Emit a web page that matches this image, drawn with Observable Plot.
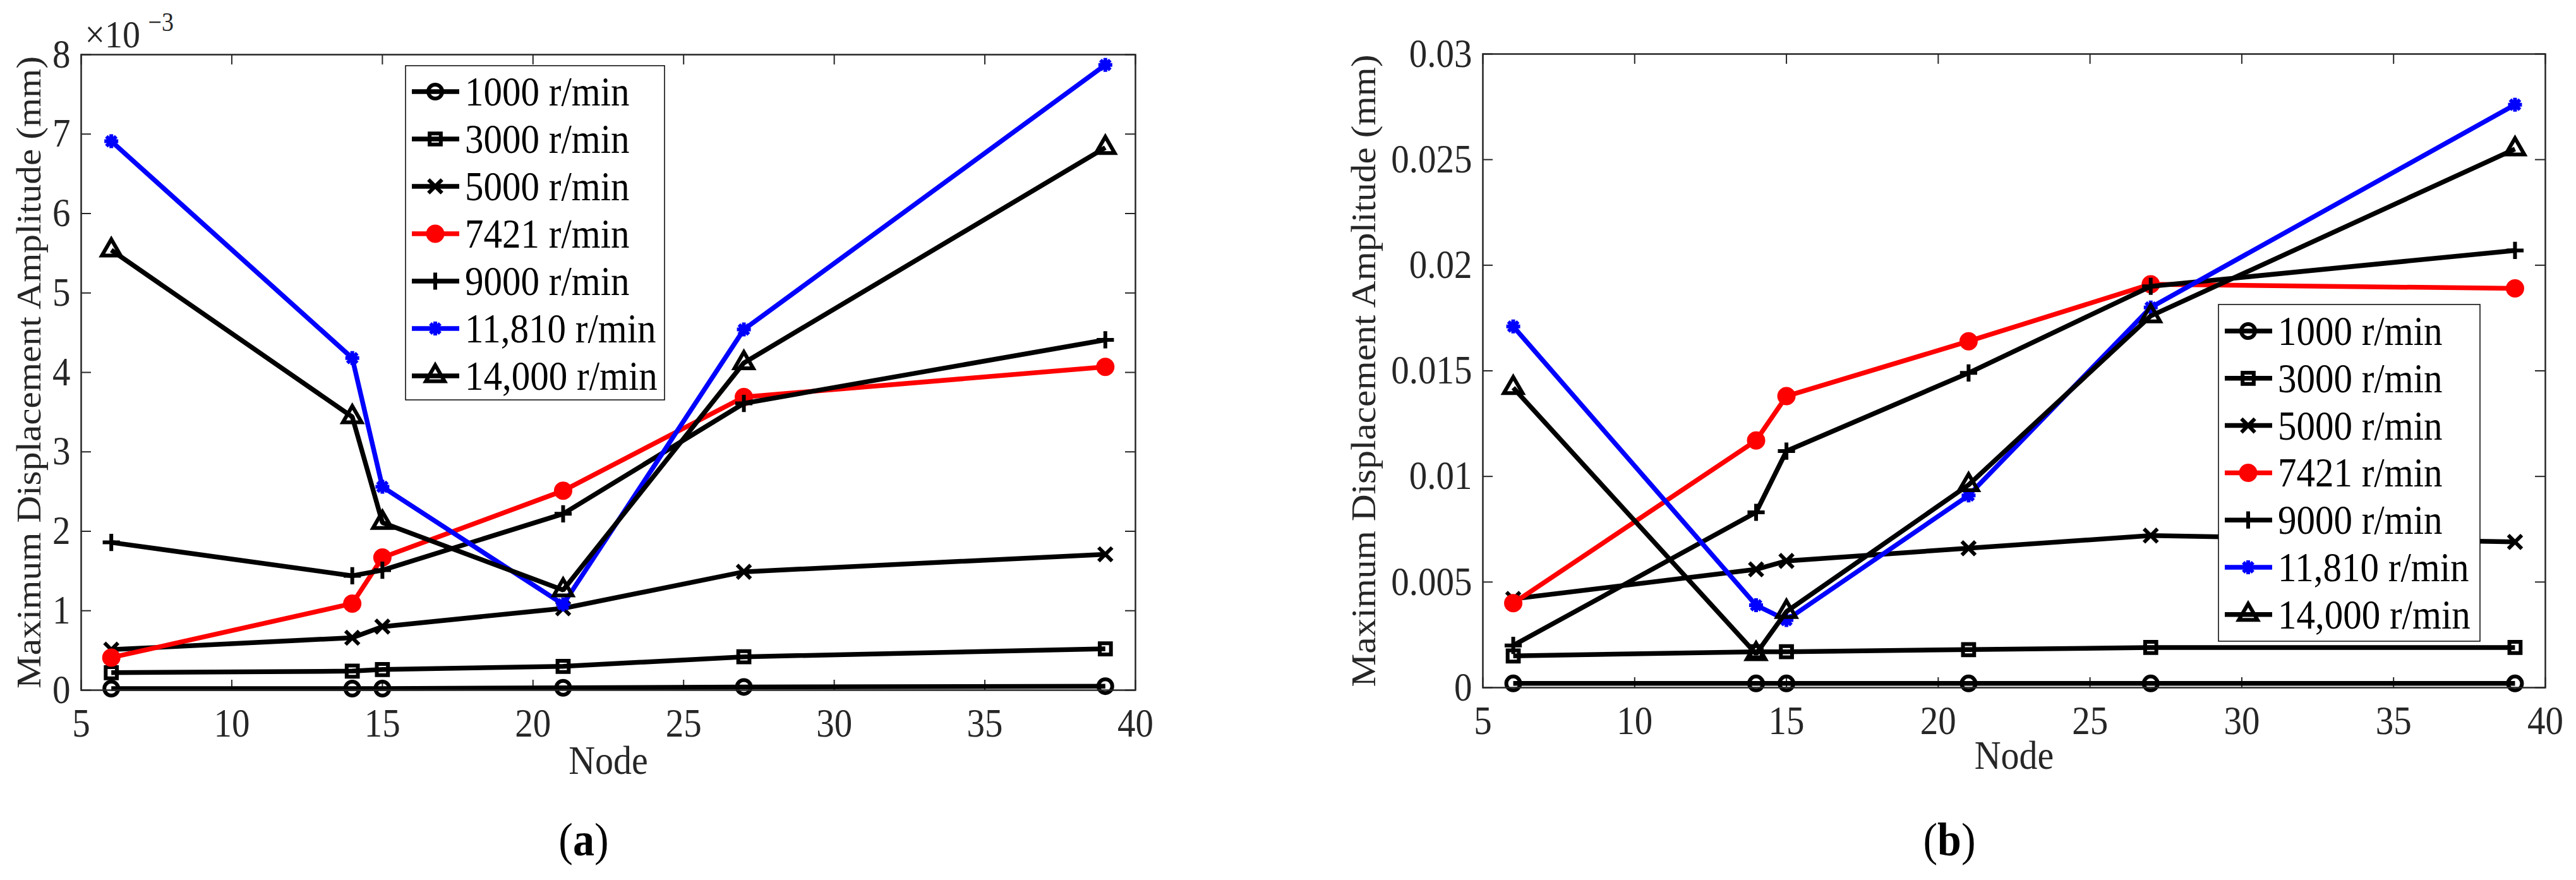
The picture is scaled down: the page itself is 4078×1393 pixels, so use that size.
<!DOCTYPE html>
<html>
<head>
<meta charset="utf-8">
<script src="https://cdn.jsdelivr.net/npm/d3@7"></script>
<script src="https://cdn.jsdelivr.net/npm/@observablehq/plot@0.6"></script>
<style>
  html, body { margin: 0; padding: 0; background: #fff; }
  body { width: 4078px; height: 1393px; overflow: hidden; font-family: "Liberation Serif", "Times New Roman", serif; }
  #fig { position: relative; width: 4078px; height: 1393px; }
  #pa, #pb { position: absolute; top: 0; }
  #pa { left: 0; }
  #pb { left: 2039px; }
  #overlay { position: absolute; left: 0; top: 0; pointer-events: none; }
</style>
</head>
<body>
<div id="fig">
  <div id="pa"></div>
  <div id="pb"></div>
</div>
<script>
// ---------------- data ----------------
const nodes = [6, 14, 15, 21, 27, 39];
const speeds = ["1000 r/min", "3000 r/min", "5000 r/min", "7421 r/min", "9000 r/min", "11,810 r/min", "14,000 r/min"];
const seriesColors = ["#000000", "#000000", "#000000", "#ff0000", "#000000", "#0000ff", "#000000"];
const seriesSymbols = ["circle", "square", "times", "circle", "plus", "asterisk8", "triangle"];
const seriesFilled = [false, false, false, true, false, false, false];

// panel (a): values in units of 1e-3 mm
const a1000 = [0.02, 0.02, 0.02, 0.03, 0.04, 0.05];
const a3000 = [0.22, 0.24, 0.26, 0.30, 0.42, 0.52];
const a5000 = [0.51, 0.66, 0.80, 1.03, 1.49, 1.71];
const a7421 = [0.41, 1.09, 1.67, 2.51, 3.69, 4.07];
const a9000 = [1.86, 1.44, 1.51, 2.22, 3.61, 4.41];
const a11810 = [6.91, 4.18, 2.56, 1.08, 4.54, 7.87];
const a14000 = [5.54, 3.44, 2.11, 1.26, 4.12, 6.83];

// panel (b): values in mm
const b1000 = [0.0002, 0.0002, 0.0002, 0.0002, 0.0002, 0.0002];
const b3000 = [0.0015, 0.0017, 0.0017, 0.0018, 0.0019, 0.0019];
const b5000 = [0.0042, 0.0056, 0.0060, 0.0066, 0.0072, 0.0069];
const b7421 = [0.0040, 0.0117, 0.0138, 0.0164, 0.0191, 0.0189];
const b9000 = [0.0020, 0.0083, 0.0112, 0.0149, 0.0190, 0.0207];
const b11810 = [0.0171, 0.0039, 0.0032, 0.0091, 0.0180, 0.0276];
const b14000 = [0.0142, 0.0016, 0.0036, 0.0096, 0.0176, 0.0255];

const xTicks = [5, 10, 15, 20, 25, 30, 35, 40];
const xTickLabels = ["5", "10", "15", "20", "25", "30", "35", "40"];
const yTicksA = [0, 1, 2, 3, 4, 5, 6, 7, 8];
const yTickLabelsA = ["0", "1", "2", "3", "4", "5", "6", "7", "8"];
const yTicksB = [0, 0.005, 0.01, 0.015, 0.02, 0.025, 0.03];
const yTickLabelsB = ["0", "0.005", "0.01", "0.015", "0.02", "0.025", "0.03"];

const xLabel = "Node";
const yLabel = "Maximum Displacement Amplitude (mm)";
const exponentBase = "\u00d710";
const exponentPower = "\u22123";
const captions = ["a", "b"];

// ---------------- style ----------------
const FONT = "Liberation Serif, Times New Roman, serif";
const AX = "#262626";
const K = 1.1;           // vertical stretch of glyphs seen in the reference
const LW = 7.5;          // line width
const MW = 6;            // marker stroke width
const TL = 16;           // inward tick length
const radii = [11, 10, 9.8, 11.5, 8.8, 11, 11];

// MATLAB-style eight-armed asterisk marker
const asterisk8 = {
  draw(ctx, size) {
    const r = Math.sqrt(size / Math.PI), d = r * Math.SQRT1_2;
    ctx.moveTo(0, -r); ctx.lineTo(0, r);
    ctx.moveTo(-r, 0); ctx.lineTo(r, 0);
    ctx.moveTo(-d, -d); ctx.lineTo(d, d);
    ctx.moveTo(-d, d); ctx.lineTo(d, -d);
  }
};
const plotSymbol = s => s === "asterisk8" ? asterisk8 : s;

function makePanel(cfg) {
  const {series, yDomain, yTicks, yTickLabels, width, ml, mr, top, bottom, H, yLabelDx, nodeDy, exponent} = cfg;
  const ih = bottom - top, iw = width - ml - mr;
  const marks = [];
  // inward ticks on all four sides
  marks.push(Plot.tickX(xTicks, {x: d => d, insetTop: ih - TL, stroke: AX, strokeWidth: 2}));
  marks.push(Plot.tickX(xTicks, {x: d => d, insetBottom: ih - TL, stroke: AX, strokeWidth: 2}));
  marks.push(Plot.tickY(yTicks, {y: d => d, insetRight: iw - TL, stroke: AX, strokeWidth: 2}));
  marks.push(Plot.tickY(yTicks, {y: d => d, insetLeft: iw - TL, stroke: AX, strokeWidth: 2}));
  // series
  series.forEach((vals, i) => {
    const rows = nodes.map((n, j) => ({node: n, v: vals[j]}));
    marks.push(Plot.line(rows, {x: "node", y: "v", stroke: seriesColors[i], strokeWidth: LW, strokeLinejoin: "miter", strokeLinecap: "butt"}));
    marks.push(Plot.dot(rows, {x: "node", y: "v", symbol: plotSymbol(seriesSymbols[i]), r: radii[i],
      stroke: seriesColors[i], fill: seriesFilled[i] ? seriesColors[i] : "none", strokeWidth: MW}));
  });
  marks.push(Plot.frame({stroke: AX, strokeWidth: 2.5}));
  marks.push(Plot.axisX({ticks: xTicks, tickFormat: d => xTickLabels[xTicks.indexOf(d)], tickSize: 0, tickPadding: 31,
    fontSize: 57, fill: AX, label: null}));
  marks.push(Plot.axisY({ticks: yTicks, tickFormat: d => yTickLabels[yTicks.indexOf(d)], tickSize: 0, tickPadding: 17,
    fontSize: 57, fill: AX, label: null}));
  marks.push(Plot.text([xLabel], {text: d => d, frameAnchor: "bottom", dy: nodeDy, fontSize: 58, fill: AX, textAnchor: "middle"}));
  marks.push(Plot.text([yLabel], {text: d => d, frameAnchor: "left", dx: yLabelDx, rotate: -90, fontSize: 54, fill: AX, textAnchor: "middle", lineAnchor: "middle"}));
  if (exponent) {
    marks.push(Plot.text([exponentBase], {text: d => d, frameAnchor: "top-left", dx: 6, dy: -13, textAnchor: "start", lineAnchor: "bottom", fontSize: 56, fill: AX}));
    marks.push(Plot.text([exponentPower], {text: d => d, frameAnchor: "top-left", dx: 106, dy: -39, textAnchor: "start", lineAnchor: "bottom", fontSize: 38, fill: AX}));
  }
  return Plot.plot({
    width, height: H,
    marginLeft: ml, marginRight: mr, marginTop: top, marginBottom: H - bottom,
    x: {domain: [5, 40]},
    y: {domain: yDomain},
    style: {fontFamily: FONT, fontSize: "57px", color: AX, background: "transparent", overflow: "visible"},
    marks
  });
}

const H = 1280;
const svgA = makePanel({
  series: [a1000, a3000, a5000, a7421, a9000, a11810, a14000],
  yDomain: [0, 8], yTicks: yTicksA, yTickLabels: yTickLabelsA,
  width: 2039, ml: 128, mr: 242, top: 86, bottom: 1092, H,
  yLabelDx: -82, nodeDy: 131, exponent: true
});
const svgB = makePanel({
  series: [b1000, b3000, b5000, b7421, b9000, b11810, b14000],
  yDomain: [0, 0.03], yTicks: yTicksB, yTickLabels: yTickLabelsB,
  width: 2039, ml: 308, mr: 49, top: 85, bottom: 1088, H,
  yLabelDx: -188, nodeDy: 127, exponent: false
});
document.getElementById("pa").appendChild(svgA);
document.getElementById("pb").appendChild(svgB);

// ---------------- legends & captions overlay ----------------
const overlay = d3.select("#fig").append("svg").attr("id", "overlay")
  .attr("width", 4078).attr("height", 1393)
  .style("font-family", FONT);

const symbolTypes = {circle: d3.symbolCircle, square: d3.symbolSquare, times: d3.symbolTimes,
  plus: d3.symbolPlus, asterisk8: asterisk8, triangle: d3.symbolTriangle};

function legend(x0, y0, w, h, firstRow, step) {
  const g = overlay.append("g");
  g.append("rect").attr("x", x0).attr("y", y0).attr("width", w).attr("height", h)
    .attr("fill", "#fff").attr("stroke", "#000").attr("stroke-width", 1.5);
  speeds.forEach((s, i) => {
    const cy = y0 + firstRow + i * step;
    g.append("line").attr("x1", x0 + 10).attr("x2", x0 + 85).attr("y1", cy).attr("y2", cy)
      .attr("stroke", seriesColors[i]).attr("stroke-width", LW);
    g.append("path").attr("transform", `translate(${x0 + 47},${cy})`)
      .attr("d", d3.symbol(symbolTypes[seriesSymbols[i]], Math.PI * radii[i] * radii[i])())
      .attr("fill", seriesFilled[i] ? seriesColors[i] : "none")
      .attr("stroke", seriesColors[i]).attr("stroke-width", MW);
    g.append("text").attr("x", x0 + 94).attr("y", cy + 20).attr("font-size", 59).attr("fill", "#000").text(s);
  });
}
legend(642, 104, 410, 529, 41, 75);
legend(3512, 482, 414, 533, 42, 74.8);

function caption(cx, letter) {
  const t = overlay.append("text").attr("x", cx).attr("y", 1352).attr("text-anchor", "middle")
    .attr("font-size", 68).attr("fill", "#000");
  t.append("tspan").text("(");
  t.append("tspan").attr("font-weight", "bold").text(letter);
  t.append("tspan").text(")");
}
caption(924, captions[0]);
caption(3086, captions[1]);

// ---------------- stretch glyphs vertically like the reference ----------------
function stretchTexts(root) {
  root.querySelectorAll("text").forEach(t => {
    const bb = t.getBBox();
    const tr = t.getAttribute("transform") || "";
    if (/rotate/.test(tr)) {
      const cx = bb.x + bb.width / 2;
      t.setAttribute("transform", `${tr} translate(${cx},0) scale(${K},1) translate(${-cx},0)`);
    } else {
      const cy = bb.y + bb.height / 2;
      t.setAttribute("transform", `${tr} translate(0,${cy}) scale(1,${K}) translate(0,${-cy})`);
    }
  });
}
stretchTexts(svgA);
stretchTexts(svgB);
stretchTexts(overlay.node());
</script>
</body>
</html>
